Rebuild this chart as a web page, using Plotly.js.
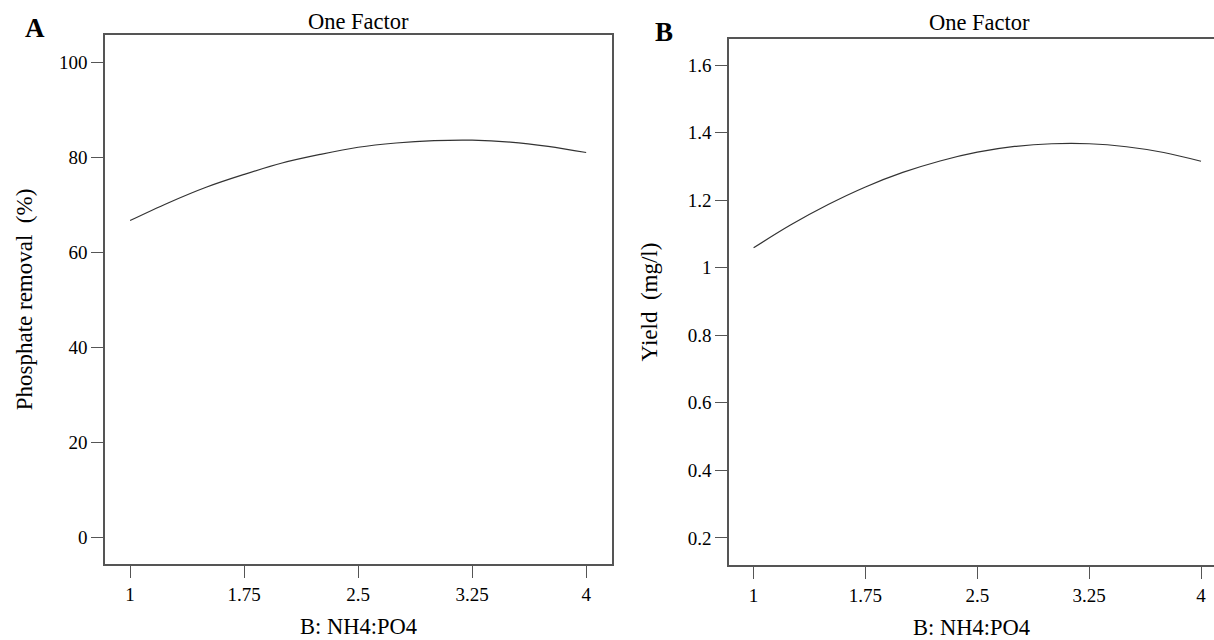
<!DOCTYPE html>
<html>
<head>
<meta charset="utf-8">
<script src="https://cdn.plot.ly/plotly-3.0.1.min.js"></script>
<style>
  html, body { margin: 0; padding: 0; background: #ffffff; }
  #chart { width: 1214px; height: 640px; }
</style>
</head>
<body>
<div id="chart"></div>
<script>
// Factor levels (B: NH4:PO4 molar ratio)
const ratio = [1, 1.25, 1.5, 1.75, 2, 2.25, 2.5, 2.75, 3, 3.25, 3.5, 3.75, 4];

// Predicted phosphate removal (%) along the factor
const phosphateRemoval = [66.7, 70.4, 73.7, 76.4, 78.8, 80.6, 82.1, 83.0, 83.5, 83.6, 83.2, 82.3, 81.0];

// Predicted yield (mg/l) along the factor
const yieldMgL = [1.059, 1.127, 1.187, 1.239, 1.282, 1.316, 1.342, 1.359, 1.367, 1.367, 1.358, 1.341, 1.315];

// Tick labels
const xTicks = [1, 1.75, 2.5, 3.25, 4];
const xTickText = ['1', '1.75', '2.5', '3.25', '4'];
const yTicksA = [0, 20, 40, 60, 80, 100];
const yTickTextA = ['0', '20', '40', '60', '80', '100'];
const yTicksB = [0.2, 0.4, 0.6, 0.8, 1, 1.2, 1.4, 1.6];
const yTickTextB = ['0.2', '0.4', '0.6', '0.8', '1', '1.2', '1.4', '1.6'];

const W = 1214, H = 640;
const px = v => v / W;
const py = v => 1 - v / H;

const SERIF = 'Liberation Serif';
const TEXT = '#000000';
const axisColor = '#555555';
const tickFont = () => ({ family: SERIF, size: 19, color: TEXT });
const titleFont = (size) => ({ family: SERIF, size: size || 22.5, color: TEXT });
const panelFont = () => ({ family: SERIF, size: 27, color: TEXT });

const curveLine = () => ({ color: '#333333', width: 1.2, shape: 'spline', smoothing: 1 });

const traces = [
  { x: ratio, y: phosphateRemoval, xaxis: 'x', yaxis: 'y', mode: 'lines',
    line: curveLine(), hoverinfo: 'x+y', showlegend: false },
  { x: ratio, y: yieldMgL, xaxis: 'x2', yaxis: 'y2', mode: 'lines',
    line: curveLine(), hoverinfo: 'x+y', showlegend: false }
];

function xAxis(domain, range, anchor) {
  return {
    domain: domain, range: range, anchor: anchor,
    tickmode: 'array', tickvals: xTicks, ticktext: xTickText,
    ticks: 'outside', ticklen: 12, tickwidth: 1.2, tickcolor: axisColor,
    showline: true, linecolor: axisColor, linewidth: 1.5, mirror: true,
    showgrid: false, zeroline: false, tickfont: tickFont(),
    title: { text: 'B: NH4:PO4', font: titleFont(), standoff: 15 }
  };
}

function yAxis(domain, range, anchor, vals, text, title, mirror, standoff) {
  return {
    domain: domain, range: range, anchor: anchor,
    tickmode: 'array', tickvals: vals, ticktext: text,
    ticks: 'outside', ticklen: 12, tickwidth: 1.2, tickcolor: axisColor,
    showline: true, linecolor: axisColor, linewidth: 1.5, mirror: mirror,
    showgrid: false, zeroline: false, tickfont: tickFont(),
    title: { text: title, font: titleFont(23), standoff: standoff }
  };
}

const layout = {
  width: W, height: H,
  margin: { l: 0, r: 0, t: 0, b: 0 },
  paper_bgcolor: '#ffffff', plot_bgcolor: '#ffffff',
  showlegend: false,
  xaxis: xAxis([px(105), px(612)], [0.835, 4.17], 'y'),
  yaxis: yAxis([py(564), py(35)], [-5.5, 105.7], 'x', yTicksA,
               yTickTextA, 'Phosphate removal  (%)', true, 20),
  xaxis2: xAxis([px(729), 1], [0.835, 4.087], 'y2'),
  yaxis2: yAxis([py(565), py(39)], [0.12, 1.677], 'x2', yTicksB,
                yTickTextB, 'Yield  (mg/l)', false, 24),
  annotations: [
    { text: 'One Factor', xref: 'paper', yref: 'paper', x: px(358), y: py(21),
      xanchor: 'center', yanchor: 'middle', showarrow: false, font: titleFont() },
    { text: 'One Factor', xref: 'paper', yref: 'paper', x: px(979), y: py(23),
      xanchor: 'center', yanchor: 'middle', showarrow: false, font: titleFont() },
    { text: '<b>A</b>', xref: 'paper', yref: 'paper', x: px(35), y: py(28),
      xanchor: 'center', yanchor: 'middle', showarrow: false, font: panelFont() },
    { text: '<b>B</b>', xref: 'paper', yref: 'paper', x: px(664), y: py(32),
      xanchor: 'center', yanchor: 'middle', showarrow: false, font: panelFont() }
  ]
};

Plotly.newPlot('chart', traces, layout, { displayModeBar: false });
</script>
</body>
</html>
